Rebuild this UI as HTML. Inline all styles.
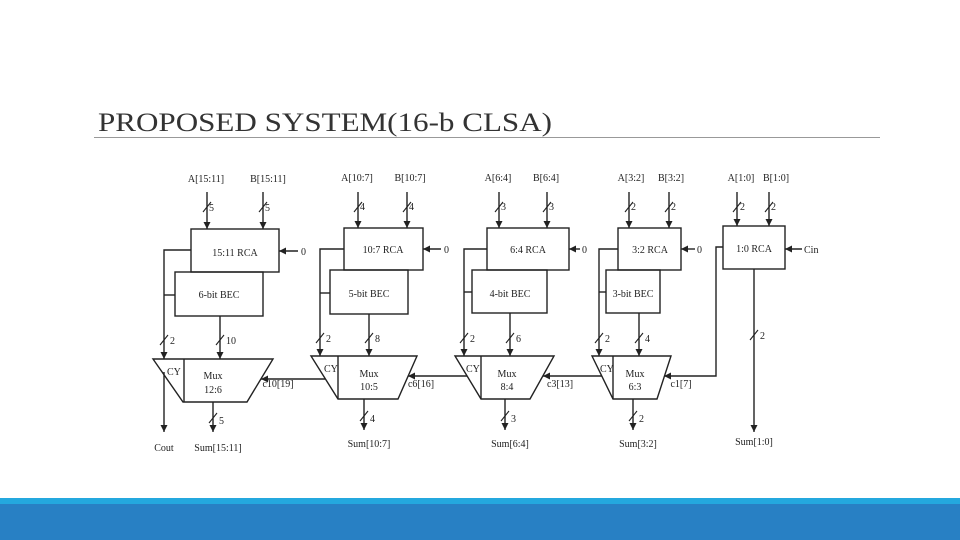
<!DOCTYPE html>
<html><head><meta charset="utf-8"><style>
html,body{margin:0;padding:0;background:#fff;}
body{width:960px;height:540px;position:relative;overflow:hidden;}
svg{position:absolute;left:0;top:0;}
</style></head><body>
<svg width="960" height="540" viewBox="0 0 960 540" xmlns="http://www.w3.org/2000/svg">
<defs>
<marker id="ar" markerWidth="8" markerHeight="8" refX="7" refY="4" orient="auto" markerUnits="userSpaceOnUse">
<path d="M0,0.5 L7,4 L0,7.5 Z" fill="#222"/></marker>
</defs>
<text x="98" y="131" font-family="'Liberation Serif', 'Times New Roman', serif" font-size="26" fill="#333" textLength="454" lengthAdjust="spacingAndGlyphs">PROPOSED SYSTEM(16-b CLSA)</text>
<line x1="94" y1="137.5" x2="880" y2="137.5" stroke="#999" stroke-width="1"/>
<rect x="0" y="498" width="960" height="6" fill="#24a8de"/>
<rect x="0" y="504" width="960" height="36" fill="#2880c4"/>

<g stroke="#222" stroke-width="1.4" fill="none">
<rect x="191" y="229" width="88" height="43"/>
<rect x="175" y="272" width="88" height="44"/>
<line x1="207" y1="192" x2="207" y2="229" marker-end="url(#ar)"/>
<line x1="263" y1="192" x2="263" y2="229" marker-end="url(#ar)"/>
<line x1="298" y1="251" x2="279" y2="251" marker-end="url(#ar)"/>
<polyline points="191,250 164,250 164,359" marker-end="url(#ar)"/>
<line x1="164" y1="295" x2="175" y2="295"/>
<line x1="220" y1="316" x2="220" y2="359" marker-end="url(#ar)"/>
<polygon points="153,359 273,359 247,402 183,402"/>
<line x1="184" y1="359" x2="184" y2="402"/>
<line x1="164" y1="372" x2="164" y2="432" marker-end="url(#ar)"/>
<line x1="213" y1="402" x2="213" y2="432" marker-end="url(#ar)"/>
<line x1="325" y1="379" x2="261" y2="379" marker-end="url(#ar)"/>
<rect x="344" y="228" width="79" height="42"/>
<rect x="330" y="270" width="78" height="44"/>
<line x1="358" y1="192" x2="358" y2="228" marker-end="url(#ar)"/>
<line x1="407" y1="192" x2="407" y2="228" marker-end="url(#ar)"/>
<line x1="441" y1="249" x2="423" y2="249" marker-end="url(#ar)"/>
<polyline points="344,249 320,249 320,356" marker-end="url(#ar)"/>
<line x1="320" y1="293" x2="330" y2="293"/>
<line x1="369" y1="314" x2="369" y2="356" marker-end="url(#ar)"/>
<polygon points="311,356 417,356 398,399 338,399"/>
<line x1="338" y1="356" x2="338" y2="399"/>
<line x1="364" y1="399" x2="364" y2="430" marker-end="url(#ar)"/>
<line x1="467" y1="376" x2="408" y2="376" marker-end="url(#ar)"/>
<rect x="487" y="228" width="82" height="42"/>
<rect x="472" y="270" width="75" height="43"/>
<line x1="499" y1="192" x2="499" y2="228" marker-end="url(#ar)"/>
<line x1="547" y1="192" x2="547" y2="228" marker-end="url(#ar)"/>
<line x1="580" y1="249" x2="569" y2="249" marker-end="url(#ar)"/>
<polyline points="487,249 464,249 464,356" marker-end="url(#ar)"/>
<line x1="464" y1="292" x2="472" y2="292"/>
<line x1="510" y1="313" x2="510" y2="356" marker-end="url(#ar)"/>
<polygon points="455,356 554,356 530,399 481,399"/>
<line x1="481" y1="356" x2="481" y2="399"/>
<line x1="505" y1="399" x2="505" y2="430" marker-end="url(#ar)"/>
<line x1="602" y1="376" x2="543" y2="376" marker-end="url(#ar)"/>
<rect x="618" y="228" width="63" height="42"/>
<rect x="606" y="270" width="54" height="43"/>
<line x1="629" y1="192" x2="629" y2="228" marker-end="url(#ar)"/>
<line x1="669" y1="192" x2="669" y2="228" marker-end="url(#ar)"/>
<line x1="695" y1="249" x2="681" y2="249" marker-end="url(#ar)"/>
<polyline points="618,249 599,249 599,356" marker-end="url(#ar)"/>
<line x1="599" y1="292" x2="606" y2="292"/>
<line x1="639" y1="313" x2="639" y2="356" marker-end="url(#ar)"/>
<polygon points="592,356 671,356 657,399 613,399"/>
<line x1="613" y1="356" x2="613" y2="399"/>
<line x1="633" y1="399" x2="633" y2="430" marker-end="url(#ar)"/>
<polyline points="723,247 716,247 716,376 664,376" marker-end="url(#ar)"/>
<rect x="723" y="226" width="62" height="43"/>
<line x1="737" y1="192" x2="737" y2="226" marker-end="url(#ar)"/>
<line x1="769" y1="192" x2="769" y2="226" marker-end="url(#ar)"/>
<line x1="802" y1="249" x2="785" y2="249" marker-end="url(#ar)"/>
<line x1="754" y1="269" x2="754" y2="432" marker-end="url(#ar)"/>
<g stroke-width="1.1">
<path d="M203,212 L211,202 M259,212 L267,202"/>
<path d="M160,345 L168,335 M216,345 L224,335 M209,423 L217,413"/>
<path d="M354,212 L362,202 M403,212 L411,202"/>
<path d="M316,343 L324,333 M365,343 L373,333 M360,421 L368,411"/>
<path d="M495,212 L503,202 M543,212 L551,202"/>
<path d="M460,343 L468,333 M506,343 L514,333 M501,421 L509,411"/>
<path d="M625,212 L633,202 M665,212 L673,202"/>
<path d="M595,343 L603,333 M635,343 L643,333 M629,421 L637,411"/>
<path d="M733,212 L741,202 M765,212 L773,202 M750,340 L758,330"/>
</g>
</g>

<g font-family="'Liberation Serif', serif" font-size="10" fill="#222">
<text x="206" y="182" text-anchor="middle">A[15:11]</text>
<text x="268" y="182" text-anchor="middle">B[15:11]</text>
<text x="357" y="181" text-anchor="middle">A[10:7]</text>
<text x="410" y="181" text-anchor="middle">B[10:7]</text>
<text x="498" y="181" text-anchor="middle">A[6:4]</text>
<text x="546" y="181" text-anchor="middle">B[6:4]</text>
<text x="631" y="181" text-anchor="middle">A[3:2]</text>
<text x="671" y="181" text-anchor="middle">B[3:2]</text>
<text x="741" y="181" text-anchor="middle">A[1:0]</text>
<text x="776" y="181" text-anchor="middle">B[1:0]</text>
<text x="209" y="211">5</text><text x="265" y="211">5</text>
<text x="360" y="210">4</text><text x="409" y="210">4</text>
<text x="501" y="210">3</text><text x="549" y="210">3</text>
<text x="631" y="210">2</text><text x="671" y="210">2</text>
<text x="740" y="210">2</text><text x="771" y="210">2</text>
<text x="235" y="256" text-anchor="middle">15:11 RCA</text>
<text x="219" y="298" text-anchor="middle">6-bit BEC</text>
<text x="383" y="253" text-anchor="middle">10:7 RCA</text>
<text x="369" y="297" text-anchor="middle">5-bit BEC</text>
<text x="528" y="253" text-anchor="middle">6:4 RCA</text>
<text x="510" y="297" text-anchor="middle">4-bit BEC</text>
<text x="650" y="253" text-anchor="middle">3:2 RCA</text>
<text x="633" y="297" text-anchor="middle">3-bit BEC</text>
<text x="754" y="252" text-anchor="middle">1:0 RCA</text>
<text x="301" y="255">0</text><text x="444" y="253">0</text><text x="582" y="253">0</text><text x="697" y="253">0</text>
<text x="804" y="253">Cin</text>
<text x="170" y="344">2</text><text x="226" y="344">10</text>
<text x="326" y="342">2</text><text x="375" y="342">8</text>
<text x="470" y="342">2</text><text x="516" y="342">6</text>
<text x="605" y="342">2</text><text x="645" y="342">4</text>
<text x="760" y="339">2</text>
<text x="167" y="375">CY</text><text x="213" y="379" text-anchor="middle">Mux</text><text x="213" y="393" text-anchor="middle">12:6</text>
<text x="324" y="372">CY</text><text x="369" y="377" text-anchor="middle">Mux</text><text x="369" y="390" text-anchor="middle">10:5</text>
<text x="466" y="372">CY</text><text x="507" y="377" text-anchor="middle">Mux</text><text x="507" y="390" text-anchor="middle">8:4</text>
<text x="600" y="372">CY</text><text x="635" y="377" text-anchor="middle">Mux</text><text x="635" y="390" text-anchor="middle">6:3</text>
<text x="278" y="387" text-anchor="middle">c10[19]</text>
<text x="421" y="387" text-anchor="middle">c6[16]</text>
<text x="560" y="387" text-anchor="middle">c3[13]</text>
<text x="681" y="387" text-anchor="middle">c1[7]</text>
<text x="219" y="424">5</text><text x="370" y="422">4</text><text x="511" y="422">3</text><text x="639" y="422">2</text>
<text x="164" y="451" text-anchor="middle">Cout</text>
<text x="218" y="451" text-anchor="middle">Sum[15:11]</text>
<text x="369" y="447" text-anchor="middle">Sum[10:7]</text>
<text x="510" y="447" text-anchor="middle">Sum[6:4]</text>
<text x="638" y="447" text-anchor="middle">Sum[3:2]</text>
<text x="754" y="445" text-anchor="middle">Sum[1:0]</text>
</g>
</svg>
</body></html>
